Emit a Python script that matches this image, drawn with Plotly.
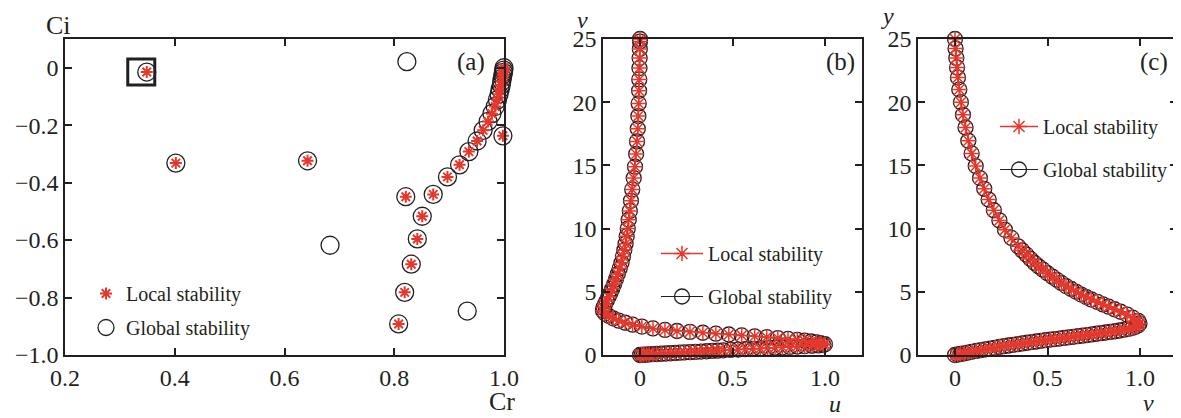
import plotly.graph_objects as go

# The page body has an 8px margin, so the figure is 8px smaller than the window
PAGE_OFF = 8
W, H = 1181 - PAGE_OFF, 418 - PAGE_OFF
RED = "#e5382d"
INK = "#231f20"
SERIF = "Liberation Serif, Times New Roman, serif"

# ---------------- panel (a): eigenvalue spectrum ----------------
cr_local = [0.349, 0.402, 0.642, 0.808, 0.819, 0.831, 0.842, 0.851, 0.821, 0.871,
            0.897, 0.919, 0.936, 0.951, 0.962, 0.971, 0.978, 0.984, 0.988, 0.991,
            0.993, 0.995, 0.996, 0.997, 0.998, 0.999, 0.9995, 1.0, 0.998]
ci_local = [-0.015, -0.332, -0.324, -0.892, -0.782, -0.684, -0.596, -0.517, -0.449, -0.441,
            -0.380, -0.338, -0.292, -0.255, -0.218, -0.187, -0.160, -0.135, -0.112, -0.092,
            -0.075, -0.060, -0.047, -0.035, -0.025, -0.016, -0.008, 0.0, -0.237]
cr_global_only = [0.823, 0.683, 0.933]
ci_global_only = [0.021, -0.618, -0.847]

# ---------------- panel (b): u eigenfunction ----------------
u_b = [0.00, 0.01, 0.02, 0.035, 0.05, 0.07, 0.09, 0.115, 0.14, 0.165, 0.19, 0.215, 0.24, 0.27,
       0.30, 0.33, 0.36, 0.39, 0.42, 0.45, 0.49, 0.53, 0.57, 0.61, 0.65, 0.69, 0.73, 0.77,
       0.81, 0.85, 0.89, 0.93, 0.965, 0.99,
       1.0, 0.975, 0.955, 0.925, 0.89, 0.85, 0.80, 0.745, 0.685, 0.62, 0.55, 0.48, 0.41,
       0.34, 0.27, 0.20, 0.135, 0.07, 0.01, -0.04, -0.08, -0.115, -0.145, -0.17, -0.19,
       -0.20, -0.198, -0.19, -0.18, -0.17, -0.16, -0.15, -0.14, -0.13, -0.12, -0.11, -0.10,
       -0.092, -0.085, -0.078, -0.072, -0.066, -0.061, -0.055, -0.049, -0.042, -0.034,
       -0.027, -0.021, -0.016, -0.012, -0.009, -0.007, -0.005, -0.004, -0.003, -0.002,
       -0.001, 0.0, 0.0]
v_b = [0.00, 0.01, 0.02, 0.035, 0.05, 0.065, 0.08, 0.10, 0.12, 0.14, 0.16, 0.18, 0.20, 0.22,
       0.245, 0.27, 0.295, 0.32, 0.345, 0.37, 0.40, 0.43, 0.46, 0.49, 0.52, 0.55, 0.58, 0.61,
       0.64, 0.67, 0.70, 0.73, 0.76, 0.79,
       0.85, 0.93, 1.0, 1.07, 1.13, 1.2, 1.27, 1.34, 1.41, 1.48, 1.55, 1.62, 1.69,
       1.76, 1.83, 1.9, 1.98, 2.1, 2.25, 2.4, 2.55, 2.72, 2.9, 3.1, 3.3,
       3.5, 3.75, 4.0, 4.3, 4.6, 4.9, 5.25, 5.6, 6.0, 6.4, 6.85, 7.3,
       7.8, 8.3, 8.8, 9.4, 10.0, 10.7, 11.4, 12.2, 13.1, 14.0,
       14.9, 15.9, 16.9, 17.9, 18.9, 19.9, 20.9, 21.8, 22.7, 23.5,
       24.2, 24.8, 25.0]

# ---------------- panel (c): v eigenfunction ----------------
v_c = [0.0, 0.015, 0.03, 0.05, 0.07, 0.09, 0.115, 0.14, 0.165, 0.19, 0.215, 0.24, 0.265,
       0.29, 0.315, 0.34, 0.365, 0.39, 0.415, 0.44, 0.465, 0.49, 0.515, 0.54, 0.565, 0.59,
       0.615, 0.64, 0.665, 0.69, 0.715, 0.74, 0.765, 0.79, 0.815, 0.84, 0.865, 0.89, 0.915,
       0.94, 0.96, 0.978, 0.99, 0.997,
       0.99, 0.96, 0.93, 0.895, 0.862, 0.83, 0.80, 0.77, 0.736, 0.71, 0.682, 0.655, 0.628,
       0.60, 0.575, 0.55, 0.526, 0.50, 0.476, 0.453, 0.43, 0.408, 0.386, 0.363, 0.341,
       0.305, 0.27, 0.24, 0.21, 0.182, 0.158, 0.135, 0.112, 0.09, 0.072, 0.057, 0.043,
       0.032, 0.023, 0.016, 0.011, 0.007, 0.003, 0.0]
y_c = [0.0, 0.04, 0.08, 0.13, 0.19, 0.25, 0.32, 0.38, 0.45, 0.51, 0.57, 0.64, 0.70,
       0.75, 0.80, 0.86, 0.92, 0.97, 1.02, 1.07, 1.12, 1.17, 1.22, 1.26, 1.30, 1.35,
       1.40, 1.44, 1.49, 1.53, 1.58, 1.63, 1.68, 1.73, 1.78, 1.83, 1.88, 1.94, 2.0,
       2.07, 2.15, 2.25, 2.36, 2.5,
       2.7, 2.95, 3.2, 3.42, 3.62, 3.82, 4.0, 4.2, 4.4, 4.58, 4.78, 5.0, 5.22,
       5.45, 5.7, 5.95, 6.2, 6.47, 6.75, 7.0, 7.28, 7.6, 7.94, 8.27, 8.6,
       9.26, 9.9, 10.65, 11.45, 12.3, 13.15, 14.0, 14.95, 15.95, 16.95, 18.0, 19.0,
       20.0, 21.0, 21.95, 22.75, 23.5, 24.25, 25.0]

# ---------------- ticks ----------------
a_xticks = [0.2, 0.4, 0.6, 0.8, 1.0]
a_xticktext = ["0.2", "0.4", "0.6", "0.8", "1.0"]
a_yticks = [0, -0.2, -0.4, -0.6, -0.8, -1.0]
a_yticktext = ["0", "\u22120.2", "\u22120.4", "\u22120.6", "\u22120.8", "\u22121.0"]
bc_xticks = [0, 0.5, 1.0]
bc_xticktext = ["0", "0.5", "1.0"]
bc_yticks = [0, 5, 10, 15, 20, 25]
bc_yticktext = ["0", "5", "10", "15", "20", "25"]


def px_x(p):
    # window pixel -> paper fraction
    return (p - PAGE_OFF) / W


def px_y(p):
    return 1 - (p - PAGE_OFF) / H


fig = go.Figure()

# panel (a)
fig.add_trace(go.Scatter(
    x=cr_local + cr_global_only, y=ci_local + ci_global_only, mode="markers",
    name="Global stability", legend="legend", legendgroup="ag", legendrank=2,
    marker=dict(symbol="circle-open", size=18, color=INK, line=dict(width=1.3, color=INK)),
    cliponaxis=False, xaxis="x", yaxis="y"))
fig.add_trace(go.Scatter(
    x=cr_local, y=ci_local, mode="markers",
    name="Local stability", legend="legend", legendgroup="al", legendrank=1,
    marker=dict(symbol="asterisk-open", size=10, color=RED, line=dict(width=2, color=RED)),
    cliponaxis=False, xaxis="x", yaxis="y"))

# panel (b)
fig.add_trace(go.Scatter(
    x=u_b, y=v_b, mode="lines+markers",
    name="Global stability", legend="legend2", legendgroup="bg", legendrank=2,
    line=dict(color=INK, width=1),
    marker=dict(symbol="circle-open", size=15, color=INK, line=dict(width=1.3, color=INK)),
    cliponaxis=False, xaxis="x2", yaxis="y2"))
fig.add_trace(go.Scatter(
    x=u_b, y=v_b, mode="lines+markers",
    name="Local stability", legend="legend2", legendgroup="bl", legendrank=1,
    line=dict(color=RED, width=1.5),
    marker=dict(symbol="asterisk-open", size=13, color=RED, line=dict(width=1.5, color=RED)),
    cliponaxis=False, xaxis="x2", yaxis="y2"))

# panel (c)
fig.add_trace(go.Scatter(
    x=v_c, y=y_c, mode="lines+markers",
    name="Global stability", legend="legend3", legendgroup="cg", legendrank=2,
    line=dict(color=INK, width=1),
    marker=dict(symbol="circle-open", size=15, color=INK, line=dict(width=1.3, color=INK)),
    cliponaxis=False, xaxis="x3", yaxis="y3"))
fig.add_trace(go.Scatter(
    x=v_c, y=y_c, mode="lines+markers",
    name="Local stability", legend="legend3", legendgroup="cl", legendrank=1,
    line=dict(color=RED, width=1.5),
    marker=dict(symbol="asterisk-open", size=13, color=RED, line=dict(width=1.5, color=RED)),
    cliponaxis=False, xaxis="x3", yaxis="y3"))

axis_style = dict(showline=True, linecolor=INK, linewidth=1.5, mirror="ticks",
                  ticks="inside", ticklen=7, tickwidth=1.5, tickcolor=INK,
                  showgrid=False, zeroline=False, automargin=False,
                  tickfont=dict(family=SERIF, size=24, color=INK))

ydom = [px_y(355), px_y(39)]
legend_font = dict(family=SERIF, size=20, color=INK)

fig.update_layout(
    template="none",
    width=W, height=H, autosize=False,
    margin=dict(l=0, r=0, t=0, b=0, pad=0),
    paper_bgcolor="white", plot_bgcolor="white",
    xaxis=dict(domain=[px_x(65), px_x(504)], range=[0.2, 1.0], anchor="y",
               tickvals=a_xticks, ticktext=a_xticktext, **axis_style),
    yaxis=dict(domain=ydom, range=[-1.0, 0.1], anchor="x",
               tickvals=a_yticks, ticktext=a_yticktext, **axis_style),
    xaxis2=dict(domain=[px_x(603), px_x(862)], range=[-0.2, 1.2], anchor="y2",
                tickvals=bc_xticks, ticktext=bc_xticktext, **axis_style),
    yaxis2=dict(domain=ydom, range=[0, 25], anchor="x2",
                tickvals=bc_yticks, ticktext=bc_yticktext, **axis_style),
    xaxis3=dict(domain=[px_x(918), px_x(1177)], range=[-0.2, 1.2], anchor="y3",
                tickvals=bc_xticks, ticktext=bc_xticktext, **axis_style),
    yaxis3=dict(domain=ydom, range=[0, 25], anchor="x3",
                tickvals=bc_yticks, ticktext=bc_yticktext, **axis_style),
    legend=dict(x=px_x(86), y=px_y(274), xanchor="left", yanchor="top",
                bgcolor="rgba(0,0,0,0)", font=legend_font, tracegroupgap=5,
                traceorder="grouped", itemwidth=30),
    legend2=dict(x=px_x(656), y=px_y(234), xanchor="left", yanchor="top",
                 bgcolor="rgba(0,0,0,0)", font=legend_font, tracegroupgap=14,
                 traceorder="grouped", itemwidth=42),
    legend3=dict(x=px_x(995), y=px_y(107), xanchor="left", yanchor="top",
                 bgcolor="rgba(0,0,0,0)", font=legend_font, tracegroupgap=14,
                 traceorder="grouped", itemwidth=38),
    showlegend=True,
)

# highlight box around the first local eigenvalue
fig.add_shape(type="rect", xref="x", yref="y", xsizemode="pixel", ysizemode="pixel",
              xanchor=cr_local[0], yanchor=ci_local[0], x0=-19, x1=8, y0=-13, y1=13,
              line=dict(color=INK, width=3), fillcolor="rgba(0,0,0,0)")

labels = [
    ("Ci", 58, 25, 26), ("Cr", 502, 401, 26),
    ("<i>v</i>", 582, 20, 24), ("<i>u</i>", 835, 404, 24),
    ("<i>y</i>", 887, 16, 24), ("<i>v</i>", 1148, 403, 24),
    ("(a)", 471, 62, 25), ("(b)", 840, 62, 25), ("(c)", 1154, 62, 25),
]
for text, x, y, s in labels:
    fig.add_annotation(text=text, x=px_x(x), y=px_y(y), xref="paper", yref="paper",
                       xanchor="center", yanchor="middle", showarrow=False,
                       font=dict(family=SERIF, size=s, color=INK))

fig.write_html("out.html")
